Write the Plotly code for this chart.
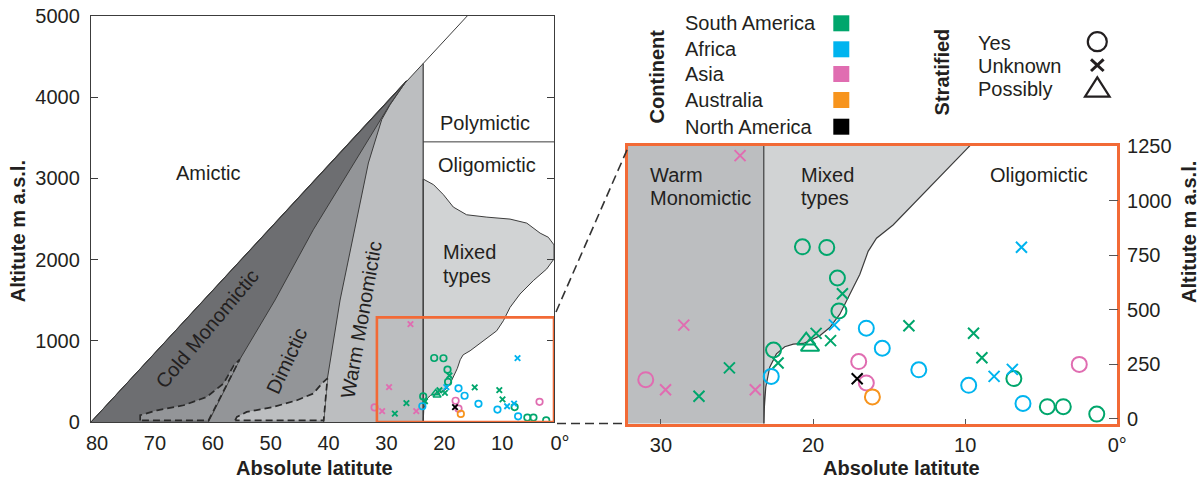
import plotly.graph_objects as go

W, H = 1203, 482
FONT = "Liberation Sans, Arial, Helvetica, sans-serif"
TXT = "#231f20"
AX = "#3c3c3c"
ORANGE = "#f26a36"
C_COLD = "#6d6e71"
C_DIM = "#939598"
C_WARM = "#bcbec0"
C_MIX = "#d1d3d4"

# ---------------- data ----------------
continents = ["South America", "Africa", "Asia", "Australia", "North America"]
continent_colors = ["#00a66c", "#00b4ef", "#e06db1", "#f7941d", "#000000"]
strat_labels = ["Yes", "Unknown", "Possibly"]

sa_lat = [22.6, 20.7, 19.1, 18.4, 18.3, 6.8, 4.6, 3.55, 1.35,
          25.5, 27.5, 22.3, 18.07, 19.8, 18.85, 13.7, 9.45, 8.9,
          20.45, 20.2]
sa_alt = [315, 788, 785, 645, 494, 184, 55, 55, 21,
          233, 103, 255, 573, 391, 358, 426, 392, 279,
          358, 330]
sa_strat = ["Yes", "Yes", "Yes", "Yes", "Yes", "Yes", "Yes", "Yes", "Yes",
            "Unknown", "Unknown", "Unknown", "Unknown", "Unknown", "Unknown",
            "Unknown", "Unknown", "Unknown",
            "Possibly", "Possibly"]

af_lat = [22.75, 16.5, 15.45, 13.05, 9.77, 6.2, 18.6, 8.1, 6.9, 6.3]
af_alt = [194, 415, 323, 224, 153, 70, 430, 194, 226, 786]
af_strat = ["Yes", "Yes", "Yes", "Yes", "Yes", "Yes",
            "Unknown", "Unknown", "Unknown", "Unknown"]

as_lat = [31.0, 17.0, 16.5, 2.5, 24.8, 28.5, 29.7, 23.8]
as_alt = [179, 262, 164, 249, 1206, 429, 133, 133]
as_strat = ["Yes", "Yes", "Yes", "Yes", "Unknown", "Unknown", "Unknown", "Unknown"]

au_lat = [16.1]
au_alt = [100]
au_strat = ["Yes"]

na_lat = [17.1]
na_alt = [183]
na_strat = ["Unknown"]

series = [(sa_lat, sa_alt, sa_strat), (af_lat, af_alt, af_strat),
          (as_lat, as_alt, as_strat), (au_lat, au_alt, au_strat),
          (na_lat, na_alt, na_strat)]

# ------------- region boundaries (latitude, altitude) -------------
# left panel
warm_lat = [80, 22.6, 22.6]
warm_alt = [0, 4416, 0]
dim_lat = [80, 25.5, 28.3, 29.76, 32.07, 34.4, 36.96, 39.15, 39.8]
dim_alt = [0, 4202, 3910, 3725, 3190, 2367, 1502, 536, 0]
cold_lat = [80, 25.5, 28.45, 41.6, 48.2, 54.3, 59.7]
cold_alt = [0, 4202, 3900, 2367, 1502, 770, 0]
ovl1_lat = [71.5, 71.5, 68.6, 64.0, 60.0, 57.1, 55.3, 54.3, 59.7, 71.5]
ovl1_alt = [20, 83, 144, 206, 309, 474, 700, 770, 20, 20]
ovl2_lat = [55.1, 54.8, 53.1, 48.5, 44.4, 41.6, 40.1, 39.15, 39.8, 55.1]
ovl2_alt = [20, 62, 124, 185, 268, 350, 474, 536, 20, 20]
mixL_lat = [22.6, 22.6, 20.8, 19.1, 17.4, 15.1, 11.6, 7.6, 4.7, 2.4, 0.98, 0, 0,
            1.26, 3.57, 5.87, 7.6, 8.75, 9.9, 12.2, 14.5, 15.7, 16.2, 16.7, 17.1,
            17.5, 17.9, 18.5, 19.1, 19.7, 20.1, 20.7, 21.3, 21.8, 22.25, 22.5,
            22.58, 22.6]
mixL_alt = [0, 2992, 2922, 2799, 2647, 2552, 2523, 2499, 2449, 2326, 2275, 2181, 2008,
            1885, 1741, 1576, 1411, 1247, 1123, 1000, 877, 827, 767, 661, 600,
            539, 479, 418, 380, 358, 345, 342, 330, 297, 236, 145,
            55, 0]
diag_lat = [80, 15.0]
diag_alt = [0, 5000]
tropic_lat = [22.6, 22.6]
tropic_alt = [0, 4416]
poly_lat = [22.6, 0]
poly_alt = [3450, 3450]

# right panel
warmR_lat = [40, 23.24, 23.24, 40]
warmR_alt = [-80, -80, 1300, 1300]
mixR_lat = [23.24, 23.24, 9.0, 9.91, 14.74, 15.3, 15.83, 16.38, 16.93, 17.37, 17.8,
            18.24, 18.9, 19.56, 20.22, 20.64, 21.3, 21.86, 22.41, 22.85, 23.11,
            23.2, 23.24]
mixR_alt = [-80, 1300, 1300, 1236, 888, 856, 827, 767, 661, 600, 539,
            479, 418, 380, 358, 345, 342, 330, 297, 236, 145,
            55, -80]

x_left_ticks = [80, 70, 60, 50, 40, 30, 20, 10, 0]
x_left_text = ["80", "70", "60", "50", "40", "30", "20", "10", "0°"]
y_left_ticks = [0, 1000, 2000, 3000, 4000, 5000]
x_right_ticks = [30, 20, 10, 0]
x_right_text = ["30", "20", "10", "0°"]
y_right_ticks = [0, 250, 500, 750, 1000, 1250]


def PX(px):
    return px / W


def PY(py):
    return 1 - py / H


fig = go.Figure()


def poly(lat, alt, fill, xa="x", ya="y", lw=1.0, dash="solid", lc=AX):
    fig.add_trace(go.Scatter(x=lat, y=alt, mode="lines", fill="toself", fillcolor=fill,
                             line=dict(color=lc, width=lw, dash=dash),
                             xaxis=xa, yaxis=ya, hoverinfo="skip", showlegend=False))


def line(lat, alt, xa="x", ya="y", lw=1.0):
    fig.add_trace(go.Scatter(x=lat, y=alt, mode="lines", line=dict(color=AX, width=lw),
                             xaxis=xa, yaxis=ya, hoverinfo="skip", showlegend=False))


# left panel regions
poly(warm_lat, warm_alt, C_WARM, lw=0.1, lc=C_WARM)
poly(dim_lat, dim_alt, C_DIM)
poly(cold_lat, cold_alt, C_COLD)
poly(ovl1_lat, ovl1_alt, C_DIM, lw=1.7, dash="7px,4px", lc="#2a2a2a")
poly(ovl2_lat, ovl2_alt, C_WARM, lw=1.7, dash="7px,4px", lc="#2a2a2a")
poly(mixL_lat, mixL_alt, C_MIX)
line(diag_lat, diag_alt)
line(tropic_lat, tropic_alt, lw=1.2)
line(poly_lat, poly_alt)

# right panel regions
poly(warmR_lat, warmR_alt, C_WARM, xa="x2", ya="y2", lw=0.1, lc=C_WARM)
poly(mixR_lat, mixR_alt, C_MIX, xa="x2", ya="y2", lw=1.2)

sym = {"Yes": "circle-open", "Unknown": "x-thin-open", "Possibly": "triangle-up-open"}
size_r = {"Yes": 15, "Unknown": 11, "Possibly": 16}
size_l = {"Yes": 6.5, "Unknown": 5.5, "Possibly": 7}
lw_r = {"Yes": 2, "Unknown": 2, "Possibly": 2}
lw_l = {"Yes": 1.7, "Unknown": 1.9, "Possibly": 1.5}

for name, col, (lat, alt, st) in zip(continents, continent_colors, series):
    for s in strat_labels:
        xs = [a for a, b in zip(lat, st) if b == s]
        ys = [a for a, b in zip(alt, st) if b == s]
        if not xs:
            continue
        fig.add_trace(go.Scatter(x=xs, y=ys, mode="markers", name=name,
                                 marker=dict(symbol=sym[s], size=size_l[s], color=col,
                                             line=dict(color=col, width=lw_l[s])),
                                 xaxis="x", yaxis="y", showlegend=False))
        fig.add_trace(go.Scatter(x=xs, y=ys, mode="markers", name=name,
                                 marker=dict(symbol=sym[s], size=size_r[s], color=col,
                                             line=dict(color=col, width=lw_r[s])),
                                 xaxis="x2", yaxis="y2", showlegend=False))

tickfont = dict(family=FONT, size=20, color=TXT)

fig.update_layout(
    template="none",
    width=W, height=H, autosize=False,
    margin=dict(l=0, r=0, t=0, b=0, pad=0),
    paper_bgcolor="white", plot_bgcolor="white",
    font=dict(family=FONT, size=20, color=TXT),
    showlegend=False,
    xaxis=dict(domain=[PX(91), PX(554)], range=[80, 0], anchor="y", automargin=False,
               tickvals=x_left_ticks, ticktext=x_left_text, ticks="",
               showline=True, mirror=True, linecolor=AX, linewidth=1.3,
               showgrid=False, zeroline=False, tickfont=tickfont, ticklabelstandoff=3,
               ticklabelshift=-6),
    yaxis=dict(domain=[PY(422), PY(16)], range=[0, 5000], anchor="x", automargin=False,
               tickvals=y_left_ticks, ticks="inside", ticklen=7, tickcolor=AX, tickwidth=1.2,
               showline=True, mirror="ticks", linecolor=AX, linewidth=1.3,
               showgrid=False, zeroline=False, tickfont=tickfont, ticklabelstandoff=6),
    xaxis2=dict(domain=[PX(627.5), PX(1117.3)], range=[32.2, 0], anchor="y2",
                automargin=False,
                tickvals=x_right_ticks, ticktext=x_right_text, ticks="inside", ticklen=5,
                tickcolor="#555555", tickwidth=1.2,
                showline=True, mirror=True, linecolor=ORANGE, linewidth=2.6,
                showgrid=False, zeroline=False, tickfont=tickfont, ticklabelstandoff=2),
    yaxis2=dict(domain=[PY(423.5), PY(146)], range=[-22, 1250], anchor="x2", side="right",
                automargin=False,
                tickvals=y_right_ticks, ticks="inside", ticklen=9, tickcolor="#555555",
                tickwidth=1.2,
                showline=True, mirror=True, linecolor=ORANGE, linewidth=2.6,
                showgrid=False, zeroline=False, tickfont=tickfont, ticklabelstandoff=3),
)

ann = []


def txt(x, y, t, xref="x", yref="y", angle=0, xanchor="center", size=20, bold=False):
    ann.append(dict(x=x, y=y, xref=xref, yref=yref, text=("<b>%s</b>" % t) if bold else t,
                    showarrow=False, textangle=angle, xanchor=xanchor, yanchor="middle",
                    font=dict(family=FONT, size=size, color=TXT)))


# left region labels
txt(59.7, 3065, "Amictic")
txt(60.0, 1150, "Cold Monomictic", angle=-50)
txt(46.2, 750, "Dimictic", angle=-65)
txt(33.4, 1262, "Warm Monomictic", angle=-80)
txt(11.9, 3679, "Polymictic")
txt(11.6, 3160, "Oligomictic")
txt(19.6, 2090, "Mixed", xanchor="left")
txt(19.6, 1802, "types", xanchor="left")
# right region labels
txt(30.85, 1118, "Warm", "x2", "y2", xanchor="left")
txt(30.85, 1012, "Monomictic", "x2", "y2", xanchor="left")
txt(20.92, 1118, "Mixed", "x2", "y2", xanchor="left")
txt(20.92, 1012, "types", "x2", "y2", xanchor="left")
txt(5.18, 1118, "Oligomictic", "x2", "y2")

# axis titles
txt(PX(314.6), PY(467.5), "Absolute latitute", "paper", "paper", bold=True)
txt(PX(901.6), PY(467.5), "Absolute latitute", "paper", "paper", bold=True)
txt(PX(18.3), PY(231), "Altitute m a.s.l.", "paper", "paper", angle=-90, bold=True)
txt(PX(1188.5), PY(232.5), "Altitute m a.s.l.", "paper", "paper", angle=-90, bold=True)

# legend
txt(PX(656.7), PY(76.7), "Continent", "paper", "paper", angle=-90, bold=True)
leg_y = [23.3, 49.3, 74.0, 100.0, 126.7]
shapes = []
for name, col, yy in zip(continents, continent_colors, leg_y):
    txt(PX(682.7), PY(yy), name, "paper", "paper", xanchor="left")
    shapes.append(dict(type="rect", xref="paper", yref="paper",
                       x0=PX(833.3), x1=PX(849.3), y0=PY(yy + 8), y1=PY(yy - 8),
                       fillcolor=col, line=dict(width=0)))
txt(PX(941.7), PY(71.7), "Stratified", "paper", "paper", angle=-90, bold=True)
for lab, yy in zip(strat_labels, [42.7, 66.0, 89.3]):
    txt(PX(976), PY(yy), lab, "paper", "paper", xanchor="left")

cx = 1097.3
shapes.append(dict(type="circle", xref="paper", yref="paper",
                   x0=PX(cx - 9.5), x1=PX(cx + 9.5), y0=PY(51.2), y1=PY(32.2),
                   line=dict(color=TXT, width=2.2)))
shapes.append(dict(type="line", xref="paper", yref="paper",
                   x0=PX(cx - 6.3), y0=PY(59.3), x1=PX(cx + 6.3), y1=PY(71.0),
                   line=dict(color=TXT, width=3)))
shapes.append(dict(type="line", xref="paper", yref="paper",
                   x0=PX(cx - 6.3), y0=PY(71.0), x1=PX(cx + 6.3), y1=PY(59.3),
                   line=dict(color=TXT, width=3)))
shapes.append(dict(type="path", xref="paper", yref="paper",
                   path="M %f %f L %f %f L %f %f Z" % (PX(cx - 12.3), PY(96.7), PX(cx + 12.3),
                                                       PY(96.7), PX(cx), PY(77.3)),
                   line=dict(color=TXT, width=2.2)))

# zoom box in the left panel
shapes.append(dict(type="rect", xref="x", yref="y", x0=30.6, x1=0, y0=0, y1=1288,
                   line=dict(color=ORANGE, width=2.6), layer="above"))
# connectors
shapes.append(dict(type="line", xref="paper", yref="paper",
                   x0=PX(556), y0=PY(312), x1=PX(628.5), y1=PY(146.5),
                   line=dict(color="#333333", width=1.6, dash="9px,5px")))
shapes.append(dict(type="line", xref="paper", yref="paper",
                   x0=PX(557), y0=PY(423.5), x1=PX(627), y1=PY(423.5),
                   line=dict(color="#333333", width=1.6, dash="9px,5px")))

fig.update_layout(annotations=ann, shapes=shapes)
fig.write_html("out.html",
               config={"displayModeBar": False},
               post_script="document.body.style.margin='0px';"
                           "document.body.style.overflow='hidden';")
